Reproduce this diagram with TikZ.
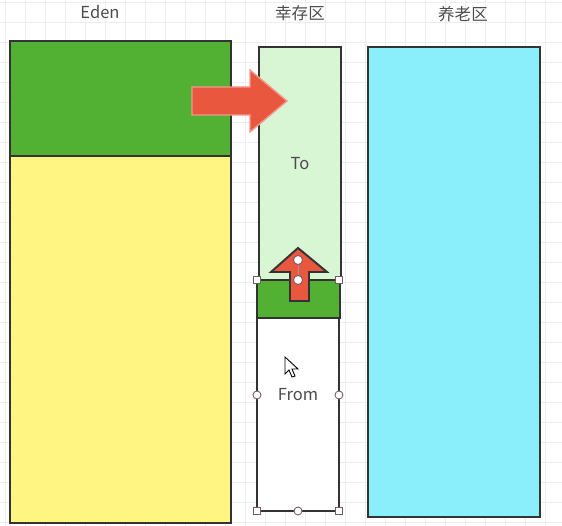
\documentclass[tikz,border=0pt]{standalone}
\usepackage{fontspec}
\setmainfont{Noto Sans CJK SC}
\usetikzlibrary{fit}
\definecolor{edenGreen}{HTML}{52B032}
\definecolor{edenYellow}{HTML}{FFF583}
\definecolor{toGreen}{HTML}{D8F5D4}
\definecolor{oldCyan}{HTML}{8AEFFA}
\definecolor{arrowRed}{HTML}{E9573F}
\definecolor{edgeDark}{HTML}{333333}
\definecolor{handleEdge}{HTML}{7A5A62}
\begin{document}
\begin{tikzpicture}[x=0.02cm, y=-0.02cm,
	zone/.style={rectangle, inner sep=0pt, draw=edgeDark, line width=1.2pt},
	title/.style={text=black!70, font=\fontsize{9.4}{11}\selectfont},
	gridline/.style={draw=black!7, line width=0.4pt},
	handle/.style={draw=handleEdge, fill=white, line width=0.5pt}]
	\useasboundingbox (0,0) rectangle (562,526);
	%Grid:
	\foreach \gx in {5,25,...,565} \draw[gridline] (\gx,0) -- (\gx,526);
	\foreach \gy in {2,22,...,522} \draw[gridline] (0,\gy) -- (562,\gy);
	%Nodes:
	\node[zone, fill=edenYellow, fit={(10,41) (231,523)}] (eden) {};
	\node[zone, fill=edenGreen, fit={(10,41) (231,156)}] (edenUsed) {};
	\node[zone, fill=toGreen, fit={(259,47) (341,280)}] (to) {};
	\node[zone, fill=white, fit={(257,280) (339,511)}] (from) {};
	\node[zone, fill=edenGreen, fit={(257,280) (340,318)}] (fromUsed) {};
	\node[zone, fill=oldCyan, fit={(368,47) (540,517)}] (old) {};
	\node[title] (edenLabel) at (100,12) {Eden};
	\node[title] (survLabel) at (300,13) {幸存区};
	\node[title] (oldLabel) at (463,14) {养老区};
	\node[title] (toLabel) at (300,164) {To};
	\node[title] (fromLabel) at (298,395) {From};
	%Arrows:
	\draw[fill=arrowRed, draw=arrowRed!60!white, line width=0.8pt]
		(192,87) -- (250,87) -- (250,70) -- (287,101) -- (250,132) -- (250,115) -- (192,115) -- cycle;
	\draw[fill=arrowRed, draw=edgeDark, line width=1.1pt]
		(290,301) -- (290,272) -- (271,272) -- (298,248) -- (327,272) -- (309,272) -- (309,301) -- cycle;
	%Handles:
	\coordinate (tipHandle) at (298,260);
	\coordinate (baseHandle) at (298,280);
	\draw[black!40, line width=0.4pt] (tipHandle) -- (baseHandle);
	\foreach \hx/\hy in {257/280, 339/280, 257/511, 339/511}
		\draw[handle] (\hx-3.5,\hy-3.5) rectangle (\hx+3.5,\hy+3.5);
	\foreach \hx/\hy in {257/395, 339/395, 298/511}
		\draw[handle] (\hx,\hy) circle (0.08cm);
	\draw[handle] (tipHandle) circle (0.09cm);
	\draw[handle] (baseHandle) circle (0.09cm);
	%Cursor:
	\draw[fill=white, draw=black, line width=0.5pt]
		(285,357) -- (285,374) -- (289,370) -- (292,377) -- (295,376) -- (292,369) -- (298,369) -- cycle;
\end{tikzpicture}
\end{document}
